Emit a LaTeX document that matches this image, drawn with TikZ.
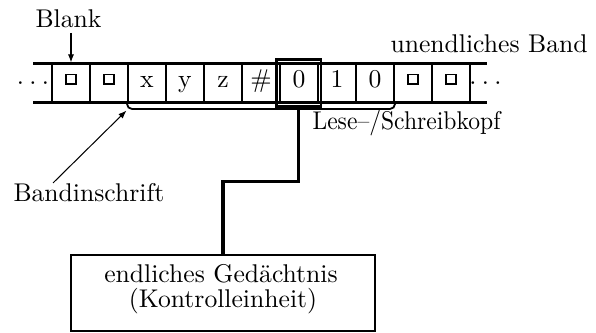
\documentclass[tikz,border=0pt]{standalone}
\usetikzlibrary{arrows.meta}
\newcommand\blanksq{\raisebox{1.8pt}{\setlength\fboxsep{0pt}\setlength\fboxrule{0.45pt}\fbox{\rule{0pt}{3.4pt}\hspace{3.4pt}}}}
\newcommand\tapedots{$\cdot$\hspace{2.1pt}$\cdot$\hspace{2.1pt}$\cdot$}
\begin{document}
\begin{tikzpicture}[x=0.39pt,y=-0.39pt,
  tapeline/.style={line width=0.8pt},
  cell/.style={draw, line width=0.8pt, inner sep=0pt, minimum width=14.82pt,
    minimum height=15.21pt, text height=5pt, text depth=1.1pt},
  lbl/.style={inner sep=0pt, anchor=base west},
  dotsl/.style={inner sep=0pt, anchor=base},
  headbox/.style={draw, line width=1pt, inner sep=0pt, minimum width=17.4pt, minimum height=18.3pt},
  ctrlbox/.style={draw, line width=0.8pt, inner sep=0pt, minimum width=118.5pt, minimum height=29.5pt},
  ctrlline/.style={line width=1.2pt},
  thinarrow/.style={line width=0.4pt, -{Latex[length=3.2pt,width=2.4pt]}},
  bracket/.style={line width=0.7pt, rounded corners=2pt}]
\useasboundingbox (0,0) rectangle (596,333);
% tape border lines
\draw[tapeline] (33,63.5) -- (487,63.5);
\draw[tapeline] (33,102.5) -- (487,102.5);
% cells
\node[cell] (c1) at (71,83) {\blanksq};
\node[cell] (c2) at (109,83) {\blanksq};
\node[cell] (c3) at (147,83) {x};
\node[cell] (c4) at (185,83) {y};
\node[cell] (c5) at (223,83) {z};
\node[cell] (c6) at (261,83) {\#};
\node[cell] (c7) at (299,83) {0};
\node[cell] (c8) at (337,83) {1};
\node[cell] (c9) at (375,83) {0};
\node[cell] (c10) at (413,83) {\blanksq};
\node[cell] (c11) at (451,83) {\blanksq};
% dots
\node[dotsl] (dl) at (33,89.4) {\tapedots};
\node[dotsl] (dr) at (485.5,89.4) {\tapedots};
% read/write head
\node[headbox] (head) at (298.75,83) {};
% labels
\node[lbl] (blank) at (35,28) {Blank};
\node[lbl] (band) at (390,53) {unendliches Band};
\node[lbl] (kopf) at (312,130) {\scalebox{0.92}[1]{Lese--/Schreibkopf}};
\node[lbl] (inschr) at (13,202) {Bandinschrift};
% control unit
\node[ctrlbox] (ctrl) at (223,293) {};
\node[inner sep=0pt, anchor=base] (t1) at (221,283) {endliches Ged\"achtnis};
\node[inner sep=0pt, anchor=base] (t2) at (223,308) {(Kontrolleinheit)};
% connections
\draw[thinarrow] (blank.south -| c1.north) ++(0,4) -- (c1.north);
\draw[bracket] (c3.south west) -- ++(0,5.5) -| (c9.south east);
\coordinate (bs) at (53,183);
\coordinate (be) at (126.5,110.5);
\draw[thinarrow] (bs) -- (be);
\draw[ctrlline] (head.south) -- ++(0,73.5) -| (ctrl.north);
\end{tikzpicture}
\end{document}
